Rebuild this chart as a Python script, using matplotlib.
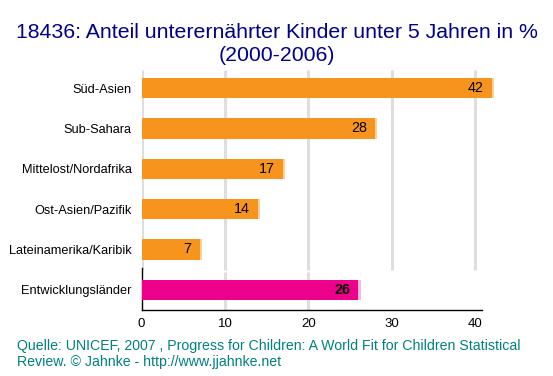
import matplotlib
matplotlib.use("Agg")
import matplotlib.pyplot as plt

categories = ["Süd-Asien", "Sub-Sahara", "Mittelost/Nordafrika", "Ost-Asien/Pazifik",
              "Lateinamerika/Karibik", "Entwicklungsländer"]
values = [42, 28, 17, 14, 7, 26]
highlight = [False, False, False, False, False, True]
xticks = [0, 10, 20, 30, 40]

title = "18436: Anteil unterernährter Kinder unter 5 Jahren in %\n(2000-2006)"
source = ("Quelle: UNICEF, 2007 , Progress for Children: A World Fit for Children Statistical\n"
          "Review. © Jahnke - http://www.jjahnke.net")

plt.rcParams['font.family'] = ['Liberation Sans', 'DejaVu Sans']

fig = plt.figure(figsize=(5.53, 3.76), dpi=100)
ax = fig.add_axes([141.5/553, 1-310/376, (482-141.5)/553, (310-70)/376])

n = len(categories)
ypos = [n - 1 - i for i in range(n)]

# grid lines
for t in xticks:
    ax.vlines(t, 0.5, 5.45, color='#dedede', lw=2.2, zorder=0)
for t in xticks[1:3]:
    ax.vlines(t, -0.5, 0.45, color='#dedede', lw=2.2, zorder=0)

orange = '#F7941D'
pink = '#EC008C'
for y, v, h in zip(ypos, values, highlight):
    c = pink if h else orange
    sh = '#f7b8d9' if h else '#fbd09a'
    ax.barh(y, v + 0.25, height=0.5, color=sh, zorder=2, clip_on=False)
    ax.barh(y, v, height=0.5, color=c, zorder=3, clip_on=False)
    ax.annotate(str(v), xy=(v, y), xytext=(-6, 0), textcoords='offset points',
                ha='right', va='center', fontsize=10.3,
                fontweight='bold' if h else 'normal', color='black', zorder=4,
                annotation_clip=False)

ax.set_xlim(0, 40.8)
ax.set_ylim(-0.5, 5.45)
ax.set_yticks(ypos)
ax.set_yticklabels(categories, fontsize=9.2)
ax.set_xticks(xticks)
ax.set_xticklabels([str(t) for t in xticks], fontsize=9.5)
ax.tick_params(axis='both', length=0)
ax.tick_params(axis='y', pad=7)
ax.tick_params(axis='x', pad=6)
for s in ['top', 'right']:
    ax.spines[s].set_visible(False)
ax.spines['left'].set_bounds(-0.5, 0.55)
ax.spines['left'].set_linewidth(1)
ax.spines['bottom'].set_linewidth(1)

fig.text(0.5, 1-44/376, title, ha='center', va='center', fontsize=15.3,
         color='#00008B', linespacing=1.25)
fig.text(17/553, 1-354/376, source, ha='left', va='center', fontsize=10.2,
         color='#008080', linespacing=1.2)

fig.savefig("out.png", dpi=100)
